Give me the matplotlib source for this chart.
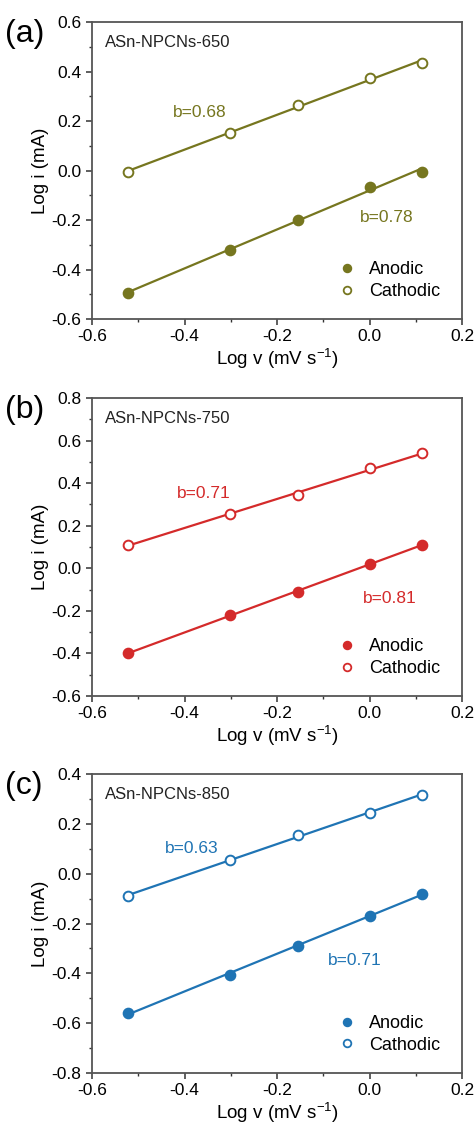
import numpy as np
import matplotlib
matplotlib.use("Agg")
import matplotlib.pyplot as plt
from matplotlib.ticker import MultipleLocator, FormatStrFormatter

plt.rcParams['font.family'] = ['Liberation Sans', 'DejaVu Sans']
plt.rcParams['axes.unicode_minus'] = False

# log of scan rate (0.3, 0.5, 0.7, 1.0, 1.3 mV/s)
log_v = [-0.523, -0.301, -0.155, 0.0, 0.114]

panel_labels = ['(a)', '(b)', '(c)']
samples = ['ASn-NPCNs-650', 'ASn-NPCNs-750', 'ASn-NPCNs-850']
colors = ['#76761f', '#d42a2a', '#1f74b4']

anodic = [
    [-0.495, -0.32, -0.20, -0.065, -0.005],
    [-0.40, -0.22, -0.11, 0.02, 0.11],
    [-0.56, -0.405, -0.29, -0.17, -0.08],
]
cathodic = [
    [-0.005, 0.15, 0.265, 0.375, 0.435],
    [0.11, 0.255, 0.345, 0.47, 0.54],
    [-0.09, 0.055, 0.155, 0.245, 0.315],
]
b_cat = ['b=0.68', 'b=0.71', 'b=0.63']
b_an = ['b=0.78', 'b=0.81', 'b=0.71']
b_cat_pos = [(-0.366, 0.236), (-0.358, 0.349), (-0.384, 0.103)]
b_an_pos = [(0.038, -0.188), (0.044, -0.14), (-0.031, -0.35)]
ylims = [(-0.6, 0.6), (-0.6, 0.8), (-0.8, 0.4)]

fig = plt.figure(figsize=(4.75, 11.24), dpi=100)
W, H = 475, 1124
# axes boxes in pixels: left, top, right, bottom
boxes = [(92, 22, 462, 319), (92, 398, 462, 696), (92, 774, 462, 1073)]

for k in range(3):
    l, t, r, b = boxes[k]
    ax = fig.add_axes([l / W, 1 - b / H, (r - l) / W, (b - t) / H])
    c = colors[k]
    x = np.array(log_v)
    for y, face, lab in [(anodic[k], c, 'Anodic'), (cathodic[k], 'white', 'Cathodic')]:
        p = np.polyfit(x, y, 1)
        ax.plot([x[0], x[-1]], np.polyval(p, [x[0], x[-1]]), color=c, lw=1.6, zorder=2)
        ax.plot(x, y, 'o', ms=7, mfc=face, mec=c, mew=1.4, zorder=3)
        ax.plot([], [], 'o', ms=5.5, mfc=face, mec=c, mew=1.3, label=lab)

    ax.set_xlim(-0.6, 0.2)
    ax.set_ylim(*ylims[k])
    ax.xaxis.set_major_locator(MultipleLocator(0.2))
    ax.xaxis.set_minor_locator(MultipleLocator(0.1))
    ax.yaxis.set_major_locator(MultipleLocator(0.2))
    ax.yaxis.set_minor_locator(MultipleLocator(0.1))
    ax.xaxis.set_major_formatter(FormatStrFormatter('%.1f'))
    ax.yaxis.set_major_formatter(FormatStrFormatter('%.1f'))
    ax.tick_params(which='both', direction='out', labelsize=12.5, top=False, right=False, color='#333333')
    ax.tick_params(which='major', length=4, width=1.1)
    ax.tick_params(which='minor', length=2.5, width=1)
    for s in ax.spines.values():
        s.set_color('#555555')
        s.set_linewidth(1.3)

    ax.set_xlabel('Log v (mV s$^{\\mathregular{-1}}$)', fontsize=13.5, labelpad=1)
    ax.set_ylabel('Log i (mA)', fontsize=13.5, labelpad=2)

    ax.text(0.035, 0.93, samples[k], transform=ax.transAxes, fontsize=12,
            ha='left', va='center', color='#222222')
    ax.text(b_cat_pos[k][0], b_cat_pos[k][1], b_cat[k], color=c, fontsize=12.5,
            ha='center', va='center')
    ax.text(b_an_pos[k][0], b_an_pos[k][1], b_an[k], color=c, fontsize=12.5,
            ha='center', va='center')
    ax.legend(loc='lower right', frameon=False, fontsize=13, handletextpad=0.6,
              borderaxespad=0, labelspacing=0.25, handlelength=1.2,
              bbox_to_anchor=(0.96, 0.04))

    fig.text(5 / W, 1 - (t + 12) / H, panel_labels[k], fontsize=23, ha='left', va='center')

fig.savefig('out.png', dpi=100)
